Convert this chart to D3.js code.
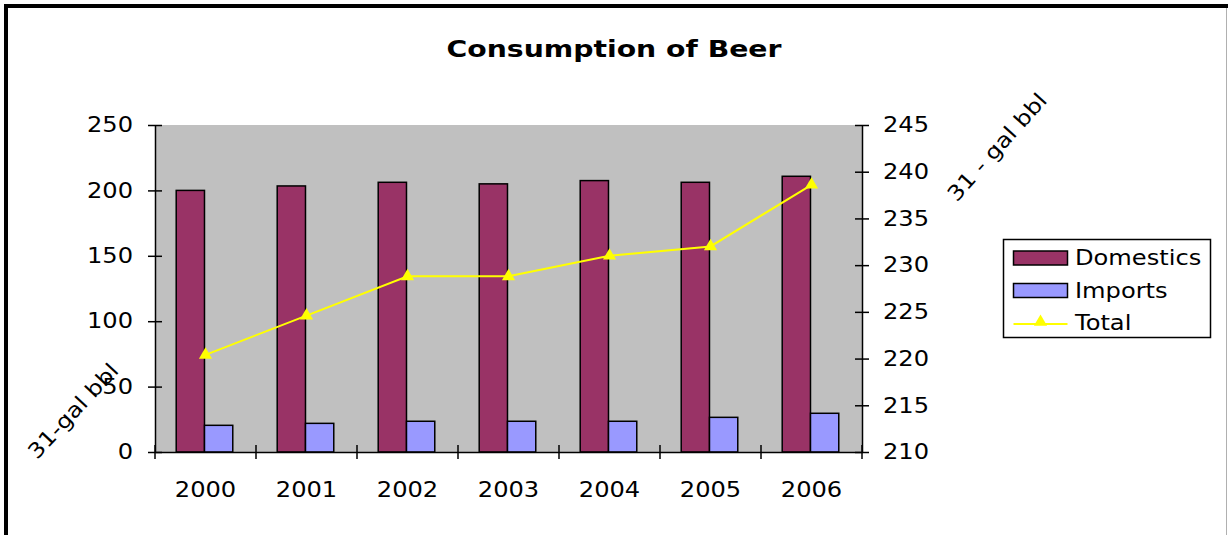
<!DOCTYPE html>
<html>
<head>
<meta charset="utf-8">
<script src="https://cdn.jsdelivr.net/npm/d3@7/dist/d3.min.js"></script>
<style>
  body { margin: 0; background: #fff; }
  svg { display: block; }
  text { font-family: "DejaVu Sans", Verdana, sans-serif; fill: #000; }
</style>
</head>
<body>
<svg id="chart"></svg>
<script>
// chart data
var years = ["2000", "2001", "2002", "2003", "2004", "2005", "2006"];
var domestics = [200, 203.4, 206.2, 205, 207.5, 206.2, 210.8];
var imports = [20.4, 21.9, 23.5, 23.5, 23.5, 26.5, 29.6];
var totals = [220.4, 224.6, 228.8, 228.8, 231.0, 232.0, 238.6];
var leftTicks = [0, 50, 100, 150, 200, 250];
var rightTicks = [210, 215, 220, 225, 230, 235, 240, 245];
var seriesNames = ["Domestics", "Imports", "Total"];
var colors = { Domestics: "#993366", Imports: "#9999ff", Total: "#ffff00" };

var W = 1228, H = 535;
var SX = 1.15; // text looks stretched sideways in the original
var margin = { top: 125, right: 366, bottom: 83, left: 155 },
  width = W - margin.left - margin.right,
  height = H - margin.top - margin.bottom;

var svg = d3.select("#chart").attr("width", W).attr("height", H);

// outer frame
svg.append("rect").attr("width", W).attr("height", H).attr("fill", "#fff");
svg.append("path")
  .attr("d", "M6," + H + "V6H" + W)
  .attr("fill", "none").attr("stroke", "#000").attr("stroke-width", 4);
svg.append("line")
  .attr("x1", W - 1.5).attr("x2", W - 1.5).attr("y1", 8).attr("y2", H)
  .attr("stroke", "#b0b0b0").attr("stroke-width", 1);

// title
svg.append("text")
  .attr("transform", "translate(614,57) scale(1.23,1)")
  .attr("text-anchor", "middle")
  .style("font-size", "23px").style("font-weight", "bold")
  .text("Consumption of Beer");

var g = svg.append("g").attr("transform", "translate(" + margin.left + "," + margin.top + ")");

var x0 = d3.scaleBand().domain(years).range([0, width]);
var x1 = d3.scaleBand().domain(["Domestics", "Imports"])
  .range([x0.bandwidth() * 0.21, x0.bandwidth() * 0.77]);
var y = d3.scaleLinear().domain([0, 250]).range([height, 0]);
var y2 = d3.scaleLinear().domain([210, 245]).range([height, 0]);

// plot background
g.append("rect").attr("width", width).attr("height", height).attr("fill", "#c0c0c0");

// bars
var rows = years.map(function(d, i) {
  return { year: d, Domestics: domestics[i], Imports: imports[i], Total: totals[i] };
});

g.selectAll(".grp")
  .data(rows)
  .enter().append("g")
  .attr("class", "grp")
  .attr("transform", function(d) { return "translate(" + x0(d.year) + ",0)"; })
  .selectAll("rect")
  .data(function(d) {
    return ["Domestics", "Imports"].map(function(k) { return { key: k, value: d[k] }; });
  })
  .enter().append("rect")
  .attr("x", function(d) { return x1(d.key); })
  .attr("width", x1.bandwidth())
  .attr("y", function(d) { return y(d.value); })
  .attr("height", function(d) { return height - y(d.value); })
  .attr("fill", function(d) { return colors[d.key]; })
  .attr("stroke", "#000")
  .attr("stroke-width", 1.5);

// total line on right axis
var line = d3.line()
  .x(function(d) { return x0(d.year) + x0.bandwidth() / 2; })
  .y(function(d) { return y2(d.Total); });

g.append("path")
  .datum(rows)
  .attr("d", line)
  .attr("fill", "none")
  .attr("stroke", colors.Total)
  .attr("stroke-width", 2);

var tri = d3.symbol().type(d3.symbolTriangle).size(75);
g.selectAll(".mark")
  .data(rows)
  .enter().append("path")
  .attr("class", "mark")
  .attr("d", tri)
  .attr("transform", function(d) {
    return "translate(" + (x0(d.year) + x0.bandwidth() / 2) + "," + y2(d.Total) + ")";
  })
  .attr("fill", colors.Total);

// axes
function styleAxis(sel) {
  sel.select(".domain").attr("stroke", "#000").attr("stroke-width", 1.5);
  sel.selectAll(".tick line").attr("stroke", "#000").attr("stroke-width", 1.5);
  sel.selectAll("text").style("font-size", "21px").attr("fill", "#000");
}

var leftAxis = g.append("g")
  .call(d3.axisLeft(y).tickValues(leftTicks).tickSizeInner(7).tickSizeOuter(0).tickFormat(d3.format("d")));
styleAxis(leftAxis);
leftAxis.selectAll(".tick line").attr("x1", 7);
leftAxis.selectAll(".tick text").attr("x", -22 / SX).attr("transform", "scale(" + SX + ",1)");

var rightAxis = g.append("g")
  .attr("transform", "translate(" + width + ",0)")
  .call(d3.axisRight(y2).tickValues(rightTicks).tickSizeInner(7).tickSizeOuter(0).tickFormat(d3.format("d")));
styleAxis(rightAxis);
rightAxis.selectAll(".tick line").attr("x1", -7);
rightAxis.selectAll(".tick text").attr("x", 21 / SX).attr("transform", "scale(" + SX + ",1)");

var bottomAxis = g.append("g")
  .attr("transform", "translate(0," + height + ")")
  .call(d3.axisBottom(x0).tickSize(0));
styleAxis(bottomAxis);
bottomAxis.selectAll(".tick text")
  .attr("y", 45).attr("dy", 0)
  .attr("transform", "scale(" + SX + ",1)");

// category boundary ticks
var bounds = years.map(function(d) { return x0(d); }).concat([width]);
bottomAxis.selectAll(".bound")
  .data(bounds)
  .enter().append("line")
  .attr("class", "bound")
  .attr("x1", function(d) { return d; }).attr("x2", function(d) { return d; })
  .attr("y1", -7).attr("y2", 7)
  .attr("stroke", "#000").attr("stroke-width", 1.5);

// axis titles, slanted
svg.append("text")
  .attr("transform", "translate(73,411) rotate(-47) scale(" + SX + ",1)")
  .attr("text-anchor", "middle").attr("dy", "0.35em")
  .style("font-size", "21px")
  .text("31-gal bbl");

svg.append("text")
  .attr("transform", "translate(997,147) rotate(-48) scale(" + SX + ",1)")
  .attr("text-anchor", "middle").attr("dy", "0.35em")
  .style("font-size", "21px")
  .text("31 - gal bbl");

// legend
var legend = svg.append("g").attr("transform", "translate(1003.5,239.5)");
legend.append("rect")
  .attr("width", 207).attr("height", 98)
  .attr("fill", "#fff").attr("stroke", "#000").attr("stroke-width", 1.5);

var baselines = [25.5, 58, 90.5];
seriesNames.forEach(function(name, i) {
  var row = legend.append("g");
  if (name === "Total") {
    row.append("line")
      .attr("x1", 10).attr("x2", 64).attr("y1", 84.5).attr("y2", 84.5)
      .attr("stroke", colors.Total).attr("stroke-width", 2);
    row.append("path")
      .attr("d", tri)
      .attr("transform", "translate(37,82.5)")
      .attr("fill", colors.Total);
  } else {
    row.append("rect")
      .attr("x", 10).attr("y", baselines[i] - 14)
      .attr("width", 54).attr("height", 14)
      .attr("fill", colors[name]).attr("stroke", "#000").attr("stroke-width", 1.5);
  }
  row.append("text")
    .attr("transform", "translate(71.5," + baselines[i] + ") scale(" + SX + ",1)")
    .style("font-size", "21px")
    .text(name);
});
</script>
</body>
</html>
